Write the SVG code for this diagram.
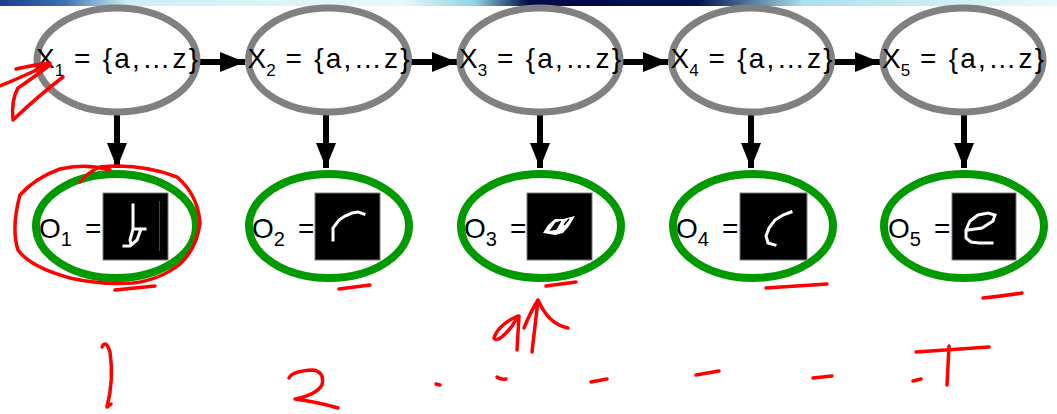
<svg xmlns="http://www.w3.org/2000/svg" width="1057" height="414" viewBox="0 0 1057 414">
<defs>
<linearGradient id="band" x1="0" y1="0" x2="1" y2="0">
<stop offset="0" stop-color="#1c3d8c"/>
<stop offset="0.06" stop-color="#3a6fb5"/>
<stop offset="0.12" stop-color="#cdeef5"/>
<stop offset="0.38" stop-color="#e8f8fb"/>
<stop offset="0.45" stop-color="#8fd2e2"/>
<stop offset="0.5" stop-color="#000a48"/>
<stop offset="0.66" stop-color="#00124f"/>
<stop offset="0.76" stop-color="#a9e1ec"/>
<stop offset="1" stop-color="#eaf9fb"/>
</linearGradient>
<marker id="ah" markerUnits="userSpaceOnUse" markerWidth="26" markerHeight="22" refX="25" refY="10" orient="auto">
<path d="M0,0 L25,10 L0,20 Z" fill="#000"/>
</marker>
</defs>
<style>
.hid{fill:none;stroke:#808080;stroke-width:7}
.obs{fill:none;stroke:#009900;stroke-width:8}
.lbl{font-family:"Liberation Sans",Arial,sans-serif;font-size:28px;fill:#000}
.box{fill:#000;stroke:#7a7a7a;stroke-width:1}
.ink{fill:none;stroke:#fff;stroke-width:3;stroke-linejoin:miter;stroke-linecap:square}
.edge{stroke:#000;stroke-width:6;fill:none}
.red{fill:none;stroke:#ff0000;stroke-width:3.5;stroke-linecap:round;stroke-linejoin:round}
</style>
<rect x="0" y="0" width="1057" height="414" fill="#fff"/>
<rect x="0" y="0" width="1057" height="6" fill="url(#band)"/>

<g id="connectors">
<line class="edge" x1="199" y1="62" x2="245" y2="62" marker-end="url(#ah)"/>
<line class="edge" x1="410" y1="62" x2="457" y2="62" marker-end="url(#ah)"/>
<line class="edge" x1="622" y1="62" x2="668" y2="62" marker-end="url(#ah)"/>
<line class="edge" x1="833" y1="62" x2="880" y2="62" marker-end="url(#ah)"/>
<line class="edge" x1="117" y1="115" x2="117" y2="168" marker-end="url(#ah)"/>
<line class="edge" x1="326" y1="115" x2="326" y2="168" marker-end="url(#ah)"/>
<line class="edge" x1="540" y1="115" x2="540" y2="168" marker-end="url(#ah)"/>
<line class="edge" x1="751" y1="115" x2="751" y2="168" marker-end="url(#ah)"/>
<line class="edge" x1="964" y1="115" x2="964" y2="168" marker-end="url(#ah)"/>
</g>

<g id="X1" transform="translate(0,0)">
<ellipse class="hid" cx="117" cy="60" rx="80" ry="52"/>
<text class="lbl" x="36" y="68">X<tspan dy="8" font-size="17">1</tspan><tspan x="74" dy="-8" textLength="124" lengthAdjust="spacing">= {a,…z}</tspan></text>
</g>
<g id="X2" transform="translate(211.5,0)">
<ellipse class="hid" cx="117" cy="60" rx="80" ry="52"/>
<text class="lbl" x="36" y="68">X<tspan dy="8" font-size="17">2</tspan><tspan x="74" dy="-8" textLength="124" lengthAdjust="spacing">= {a,…z}</tspan></text>
</g>
<g id="X3" transform="translate(423,0)">
<ellipse class="hid" cx="117" cy="60" rx="80" ry="52"/>
<text class="lbl" x="36" y="68">X<tspan dy="8" font-size="17">3</tspan><tspan x="74" dy="-8" textLength="124" lengthAdjust="spacing">= {a,…z}</tspan></text>
</g>
<g id="X4" transform="translate(634.5,0)">
<ellipse class="hid" cx="117" cy="60" rx="80" ry="52"/>
<text class="lbl" x="36" y="68">X<tspan dy="8" font-size="17">4</tspan><tspan x="74" dy="-8" textLength="124" lengthAdjust="spacing">= {a,…z}</tspan></text>
</g>
<g id="X5" transform="translate(846,0)">
<ellipse class="hid" cx="117" cy="60" rx="80" ry="52"/>
<text class="lbl" x="36" y="68">X<tspan dy="8" font-size="17">5</tspan><tspan x="74" dy="-8" textLength="124" lengthAdjust="spacing">= {a,…z}</tspan></text>
</g>

<g id="O1">
<ellipse class="obs" cx="116" cy="226" rx="80" ry="52"/>
<text class="lbl" x="39" y="238">O<tspan dy="8" font-size="20">1</tspan><tspan x="85" dy="-8">=</tspan></text>
<rect class="box" x="103" y="193" width="65" height="67"/>
<line x1="159.5" y1="201" x2="159.5" y2="251" stroke="#444" stroke-width="1"/>
<path class="ink" d="M133,205 L133,226 M133,229 L145,229 M141,229 L137,240 L130,246 L124,246 M133,229 L130,240 L131,244"/>
</g>
<g id="O2">
<ellipse class="obs" cx="329" cy="226" rx="80" ry="52"/>
<text class="lbl" x="252" y="238">O<tspan dy="8" font-size="20">2</tspan><tspan x="298" dy="-8">=</tspan></text>
<rect class="box" x="315" y="193" width="65" height="67"/>
<path class="ink" d="M333,240 L333,228 L339,220 L345,216 L352,213 L358,212 L364,214"/>
</g>
<g id="O3">
<ellipse class="obs" cx="541" cy="226" rx="80" ry="52"/>
<text class="lbl" x="464" y="238">O<tspan dy="8" font-size="20">3</tspan><tspan x="510" dy="-8">=</tspan></text>
<rect class="box" x="527" y="193" width="65" height="67"/>
<path d="M543,233 L548,225 L555,219 L563,219 L575,216 L569,226 L563,233 L555,235 Z" fill="#fff"/>
<path d="M551,230 L556,223 L560,222 L556,229 Z M564,225 L569,219" fill="#000" stroke="#000" stroke-width="1.5"/>
</g>
<g id="O4">
<ellipse class="obs" cx="753" cy="226" rx="80" ry="52"/>
<text class="lbl" x="676" y="238">O<tspan dy="8" font-size="20">4</tspan><tspan x="722" dy="-8">=</tspan></text>
<rect class="box" x="740" y="193" width="67" height="67"/>
<path class="ink" d="M791,212 L783,215 L775,220 L769,228 L766,236 L768,243 L775,245"/>
</g>
<g id="O5">
<ellipse class="obs" cx="964" cy="226" rx="80" ry="52"/>
<text class="lbl" x="888" y="238">O<tspan dy="8" font-size="20">5</tspan><tspan x="934" dy="-8">=</tspan></text>
<rect class="box" x="952" y="193" width="64" height="67"/>
<path class="ink" d="M968,230 L982,228 L993,221 L995,215 L988,213 L978,215 L970,221 L966,230 L966,238 L971,242 L979,243 L992,243"/>
</g>

<g id="annotations">
<path class="red" d="M0,86 Q22,77 47,65"/>
<path class="red" d="M16,69 Q33,65 50,63"/>
<path class="red" d="M50,65 Q30,80 18,88 Q11,100 13,120 Q37,97 63,77"/>
<path class="red" d="M80,182 Q88,172 100,167 Q140,163 177,177 Q198,195 200,223 Q197,248 180,264 Q160,280 133,283 Q100,285 70,278 Q30,267 18,250 Q11,228 20,195 Q35,178 60,169 Q85,163 110,170"/>
<path class="red" d="M115,290 Q135,288 155,286"/>
<path class="red" d="M339,289 Q355,287 370,285"/>
<path class="red" d="M546,286 Q561,284 576,282"/>
<path class="red" d="M766,288 Q796,286 827,284"/>
<path class="red" d="M983,298 Q1003,296 1022,293"/>
<path class="red" d="M518,316 C508,320 497,328 494,338 C497,343 506,334 512,326 C515,321 517,318 519,316 L517,350"/>
<path class="red" d="M524,328 C528,318 533,308 538,300 L532,352 M538,300 C545,315 553,325 568,328"/>
<path class="red" d="M102,347 Q106,339 110,352 Q114,380 107,407 L111,404"/>
<path class="red" d="M289,378 Q292,371 313,370 Q325,372 322,385 Q316,395 295,399 Q318,402 338,408"/>
<path class="red" d="M436,384 L440,385"/>
<path class="red" d="M497,377 Q501,380 506,379"/>
<path class="red" d="M591,382 L607,379"/>
<path class="red" d="M696,375 L719,371"/>
<path class="red" d="M813,378 L832,376"/>
<path class="red" d="M913,381 L921,379"/>
<path class="red" d="M916,352 L989,347 M949,346 L947,385"/>
</g>
</svg>
